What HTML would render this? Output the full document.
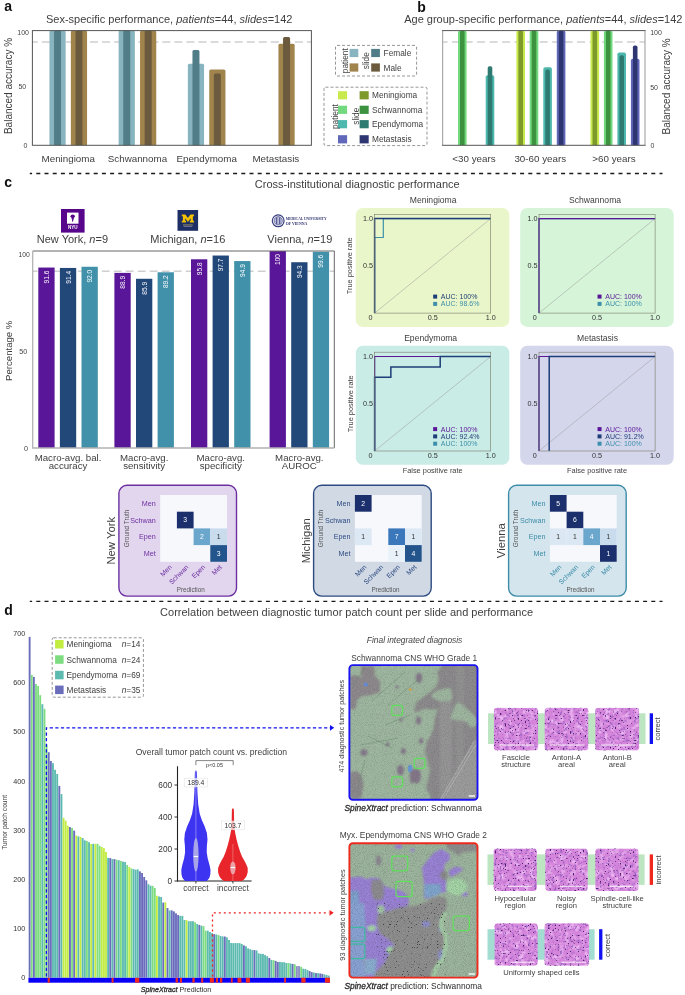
<!DOCTYPE html>
<html><head><meta charset="utf-8"><title>figure</title>
<style>
html,body{margin:0;padding:0;background:#fff;}
body{width:685px;height:995px;overflow:hidden;}
svg{display:block;font-family:"Liberation Sans", sans-serif;will-change:transform;}
</style></head><body>
<svg width="685" height="995" viewBox="0 0 685 995">
<rect width="685" height="995" fill="#ffffff"/>
<text x="4.20" y="11.40" font-size="14" text-anchor="start" fill="#111" font-weight="bold">a</text>
<text x="417.30" y="11.60" font-size="14" text-anchor="start" fill="#111" font-weight="bold">b</text>
<text x="4.20" y="186.80" font-size="14" text-anchor="start" fill="#111" font-weight="bold">c</text>
<text x="4.20" y="615.40" font-size="14" text-anchor="start" fill="#111" font-weight="bold">d</text>
<line x1="29.80" y1="173.50" x2="662.50" y2="173.50" stroke="#1a1a1a" stroke-width="1.4" stroke-dasharray="4 4.2" stroke-dashoffset="1.7"/>
<line x1="29.80" y1="601.40" x2="662.50" y2="601.40" stroke="#1a1a1a" stroke-width="1.4" stroke-dasharray="4 4.2" stroke-dashoffset="1.7"/>
<text x="46.00" y="22.50" font-size="11" text-anchor="start" fill="#3e3e3e"><tspan>Sex-specific performance, </tspan><tspan font-style="italic">patients</tspan><tspan>=44, </tspan><tspan font-style="italic">slides</tspan><tspan>=142</tspan></text>
<line x1="32.40" y1="42.07" x2="311.40" y2="42.07" stroke="#cfcfcf" stroke-width="1.6" stroke-dasharray="8 4.05" stroke-dashoffset="2.6"/>
<path d="M49.45,145.30 L49.45,32.10 Q49.45,30.60 50.95,30.60 L64.15,30.60 Q65.65,30.60 65.65,32.10 L65.65,145.30 Z" fill="#87b4bf"/>
<path d="M54.05,145.30 L54.05,32.10 Q54.05,30.60 55.55,30.60 L59.55,30.60 Q61.05,30.60 61.05,32.10 L61.05,145.30 Z" fill="#507d88"/>
<path d="M70.85,145.30 L70.85,32.10 Q70.85,30.60 72.35,30.60 L85.55,30.60 Q87.05,30.60 87.05,32.10 L87.05,145.30 Z" fill="#a0844c"/>
<path d="M75.45,145.30 L75.45,32.10 Q75.45,30.60 76.95,30.60 L80.95,30.60 Q82.45,30.60 82.45,32.10 L82.45,145.30 Z" fill="#6b5a3d"/>
<text x="68.25" y="161.90" font-size="9.8" text-anchor="middle" fill="#3e3e3e">Meningioma</text>
<path d="M118.65,145.30 L118.65,32.10 Q118.65,30.60 120.15,30.60 L133.35,30.60 Q134.85,30.60 134.85,32.10 L134.85,145.30 Z" fill="#87b4bf"/>
<path d="M123.25,145.30 L123.25,32.10 Q123.25,30.60 124.75,30.60 L128.75,30.60 Q130.25,30.60 130.25,32.10 L130.25,145.30 Z" fill="#507d88"/>
<path d="M140.05,145.30 L140.05,32.10 Q140.05,30.60 141.55,30.60 L154.75,30.60 Q156.25,30.60 156.25,32.10 L156.25,145.30 Z" fill="#a0844c"/>
<path d="M144.65,145.30 L144.65,32.10 Q144.65,30.60 146.15,30.60 L150.15,30.60 Q151.65,30.60 151.65,32.10 L151.65,145.30 Z" fill="#6b5a3d"/>
<text x="137.45" y="161.90" font-size="9.8" text-anchor="middle" fill="#3e3e3e">Schwannoma</text>
<path d="M187.85,145.30 L187.85,65.36 Q187.85,63.86 189.35,63.86 L202.55,63.86 Q204.05,63.86 204.05,65.36 L204.05,145.30 Z" fill="#87b4bf"/>
<path d="M192.45,145.30 L192.45,51.60 Q192.45,50.10 193.95,50.10 L197.95,50.10 Q199.45,50.10 199.45,51.60 L199.45,145.30 Z" fill="#507d88"/>
<path d="M209.25,145.30 L209.25,71.10 Q209.25,69.60 210.75,69.60 L223.95,69.60 Q225.45,69.60 225.45,71.10 L225.45,145.30 Z" fill="#a0844c"/>
<path d="M213.85,145.30 L213.85,75.11 Q213.85,73.61 215.35,73.61 L219.35,73.61 Q220.85,73.61 220.85,75.11 L220.85,145.30 Z" fill="#6b5a3d"/>
<text x="206.65" y="161.90" font-size="9.8" text-anchor="middle" fill="#3e3e3e">Ependymoma</text>
<path d="M278.45,145.30 L278.45,45.29 Q278.45,43.79 279.95,43.79 L293.15,43.79 Q294.65,43.79 294.65,45.29 L294.65,145.30 Z" fill="#a0844c"/>
<path d="M283.05,145.30 L283.05,38.41 Q283.05,36.91 284.55,36.91 L288.55,36.91 Q290.05,36.91 290.05,38.41 L290.05,145.30 Z" fill="#6b5a3d"/>
<text x="275.85" y="161.90" font-size="9.8" text-anchor="middle" fill="#3e3e3e">Metastasis</text>
<rect x="32.4" y="30.6" width="279.0" height="114.70000000000002" fill="none" stroke="#555" stroke-width="1"/>
<text x="29.00" y="35.30" font-size="7.0" text-anchor="end" fill="#444">100</text>
<text x="26.20" y="89.40" font-size="7.0" text-anchor="end" fill="#444">50</text>
<text x="27.40" y="148.30" font-size="7.0" text-anchor="end" fill="#444">0</text>
<text x="8.20" y="86.00" font-size="10" text-anchor="middle" fill="#3e3e3e" transform="rotate(-90 8.2 86)" dominant-baseline="central">Balanced accuracy %</text>
<rect x="335.50" y="45.40" width="81.10" height="30.60" fill="none" stroke="#8a8a8a" stroke-width="0.9" stroke-dasharray="3 2" rx="1.5"/>
<text x="345.20" y="60.70" font-size="8.3" text-anchor="middle" fill="#3e3e3e" transform="rotate(-90 345.2 60.7)" dominant-baseline="central">patient</text>
<text x="366.50" y="60.70" font-size="8.3" text-anchor="middle" fill="#3e3e3e" transform="rotate(-90 366.5 60.7)" dominant-baseline="central">slide</text>
<rect x="349.60" y="48.90" width="8.70" height="8.20" fill="#87b4bf"/>
<rect x="349.60" y="63.40" width="8.70" height="8.20" fill="#a0844c"/>
<rect x="371.20" y="48.90" width="8.70" height="8.20" fill="#507d88"/>
<rect x="371.20" y="63.40" width="8.70" height="8.20" fill="#6b5a3d"/>
<text x="383.60" y="56.20" font-size="8.3" text-anchor="start" fill="#3e3e3e">Female</text>
<text x="383.60" y="70.70" font-size="8.3" text-anchor="start" fill="#3e3e3e">Male</text>
<rect x="324.00" y="87.20" width="103.00" height="58.40" fill="none" stroke="#8a8a8a" stroke-width="0.9" stroke-dasharray="3 2" rx="1.5"/>
<rect x="338.00" y="91.20" width="9.10" height="8.20" fill="#c8ea4c"/>
<rect x="359.60" y="91.20" width="9.10" height="8.20" fill="#7d9a2b"/>
<text x="372.00" y="98.20" font-size="8.3" text-anchor="start" fill="#3e3e3e">Meningioma</text>
<rect x="338.00" y="105.70" width="9.10" height="8.20" fill="#72d97e"/>
<rect x="359.60" y="105.70" width="9.10" height="8.20" fill="#3d923f"/>
<text x="372.00" y="112.70" font-size="8.3" text-anchor="start" fill="#3e3e3e">Schwannoma</text>
<rect x="338.00" y="120.10" width="9.10" height="8.20" fill="#4db8ad"/>
<rect x="359.60" y="120.10" width="9.10" height="8.20" fill="#2e7a71"/>
<text x="372.00" y="127.10" font-size="8.3" text-anchor="start" fill="#3e3e3e">Ependymoma</text>
<rect x="338.00" y="135.20" width="9.10" height="8.20" fill="#6167b9"/>
<rect x="359.60" y="135.20" width="9.10" height="8.20" fill="#2d3671"/>
<text x="372.00" y="142.20" font-size="8.3" text-anchor="start" fill="#3e3e3e">Metastasis</text>
<text x="334.70" y="116.60" font-size="8.3" text-anchor="middle" fill="#3e3e3e" transform="rotate(-90 334.7 116.6)" dominant-baseline="central">patient</text>
<text x="356.00" y="116.20" font-size="8.3" text-anchor="middle" fill="#3e3e3e" transform="rotate(-90 356.0 116.2)" dominant-baseline="central">slide</text>
<text x="404.20" y="22.50" font-size="11" text-anchor="start" fill="#3e3e3e"><tspan>Age group-specific performance, </tspan><tspan font-style="italic">patients</tspan><tspan>=44, </tspan><tspan font-style="italic">slides</tspan><tspan>=142</tspan></text>
<line x1="442.60" y1="42.07" x2="645.00" y2="42.07" stroke="#cfcfcf" stroke-width="1.6" stroke-dasharray="8 4.5" stroke-dashoffset="3"/>
<path d="M458.00,145.30 L458.00,32.40 Q458.00,30.60 459.80,30.60 L464.80,30.60 Q466.60,30.60 466.60,32.40 L466.60,145.30 Z" fill="#72d97e"/>
<path d="M460.00,145.30 L460.00,32.40 Q460.00,30.60 461.80,30.60 L462.80,30.60 Q464.60,30.60 464.60,32.40 L464.60,145.30 Z" fill="#3d923f"/>
<path d="M485.70,145.30 L485.70,77.13 Q485.70,75.33 487.50,75.33 L492.50,75.33 Q494.30,75.33 494.30,77.13 L494.30,145.30 Z" fill="#4db8ad"/>
<path d="M487.70,145.30 L487.70,67.96 Q487.70,66.16 489.50,66.16 L490.50,66.16 Q492.30,66.16 492.30,67.96 L492.30,145.30 Z" fill="#2e7a71"/>
<text x="474.00" y="161.90" font-size="9.8" text-anchor="middle" fill="#3e3e3e">&lt;30 years</text>
<path d="M516.40,145.30 L516.40,32.40 Q516.40,30.60 518.20,30.60 L523.20,30.60 Q525.00,30.60 525.00,32.40 L525.00,145.30 Z" fill="#c8ea4c"/>
<path d="M518.40,145.30 L518.40,32.40 Q518.40,30.60 520.20,30.60 L521.20,30.60 Q523.00,30.60 523.00,32.40 L523.00,145.30 Z" fill="#7d9a2b"/>
<path d="M529.70,145.30 L529.70,32.40 Q529.70,30.60 531.50,30.60 L536.50,30.60 Q538.30,30.60 538.30,32.40 L538.30,145.30 Z" fill="#72d97e"/>
<path d="M531.70,145.30 L531.70,32.40 Q531.70,30.60 533.50,30.60 L534.50,30.60 Q536.30,30.60 536.30,32.40 L536.30,145.30 Z" fill="#3d923f"/>
<path d="M543.30,145.30 L543.30,69.10 Q543.30,67.30 545.10,67.30 L550.10,67.30 Q551.90,67.30 551.90,69.10 L551.90,145.30 Z" fill="#4db8ad"/>
<path d="M545.30,145.30 L545.30,71.40 Q545.30,69.60 547.10,69.60 L548.10,69.60 Q549.90,69.60 549.90,71.40 L549.90,145.30 Z" fill="#2e7a71"/>
<path d="M556.80,145.30 L556.80,32.40 Q556.80,30.60 558.60,30.60 L563.60,30.60 Q565.40,30.60 565.40,32.40 L565.40,145.30 Z" fill="#6167b9"/>
<path d="M558.80,145.30 L558.80,32.40 Q558.80,30.60 560.60,30.60 L561.60,30.60 Q563.40,30.60 563.40,32.40 L563.40,145.30 Z" fill="#2d3671"/>
<text x="540.30" y="161.90" font-size="9.8" text-anchor="middle" fill="#3e3e3e">30-60 years</text>
<path d="M590.50,145.30 L590.50,32.40 Q590.50,30.60 592.30,30.60 L597.30,30.60 Q599.10,30.60 599.10,32.40 L599.10,145.30 Z" fill="#c8ea4c"/>
<path d="M592.50,145.30 L592.50,32.40 Q592.50,30.60 594.30,30.60 L595.30,30.60 Q597.10,30.60 597.10,32.40 L597.10,145.30 Z" fill="#7d9a2b"/>
<path d="M603.90,145.30 L603.90,32.40 Q603.90,30.60 605.70,30.60 L610.70,30.60 Q612.50,30.60 612.50,32.40 L612.50,145.30 Z" fill="#72d97e"/>
<path d="M605.90,145.30 L605.90,32.40 Q605.90,30.60 607.70,30.60 L608.70,30.60 Q610.50,30.60 610.50,32.40 L610.50,145.30 Z" fill="#3d923f"/>
<path d="M617.40,145.30 L617.40,54.19 Q617.40,52.39 619.20,52.39 L624.20,52.39 Q626.00,52.39 626.00,54.19 L626.00,145.30 Z" fill="#4db8ad"/>
<path d="M619.40,145.30 L619.40,57.06 Q619.40,55.26 621.20,55.26 L622.20,55.26 Q624.00,55.26 624.00,57.06 L624.00,145.30 Z" fill="#2e7a71"/>
<path d="M630.90,145.30 L630.90,60.50 Q630.90,58.70 632.70,58.70 L637.70,58.70 Q639.50,58.70 639.50,60.50 L639.50,145.30 Z" fill="#6167b9"/>
<path d="M632.90,145.30 L632.90,47.31 Q632.90,45.51 634.70,45.51 L635.70,45.51 Q637.50,45.51 637.50,47.31 L637.50,145.30 Z" fill="#2d3671"/>
<text x="614.00" y="161.90" font-size="9.8" text-anchor="middle" fill="#3e3e3e">&gt;60 years</text>
<path d="M442.6,30.6 V145.3 M645.0,30.6 V145.3" fill="none" stroke="#aaaaaa" stroke-width="1.2"/>
<path d="M442.1,30.6 H645.5 M442.1,145.3 H645.5" fill="none" stroke="#555" stroke-width="1"/>
<text x="650.20" y="35.30" font-size="7.0" text-anchor="start" fill="#444">100</text>
<text x="650.20" y="89.90" font-size="7.0" text-anchor="start" fill="#444">50</text>
<text x="650.40" y="148.30" font-size="7.0" text-anchor="start" fill="#444">0</text>
<text x="666.60" y="86.40" font-size="10" text-anchor="middle" fill="#3e3e3e" transform="rotate(-90 666.6 86.4)" dominant-baseline="central">Balanced accuracy %</text>
<text x="254.80" y="188.40" font-size="11" text-anchor="start" fill="#3e3e3e">Cross-institutional diagnostic performance</text>
<rect x="61.00" y="209.00" width="23.60" height="23.60" fill="#57068c"/>
<rect x="67.00" y="212.60" width="11.50" height="11.10" fill="#ffffff"/>
<ellipse cx="72.7" cy="216.3" rx="2.2" ry="1.7" fill="#57068c"/>
<path d="M71.3,217 L74.1,217 L72.9,222 L72.5,222 Z" fill="#57068c"/>
<text x="72.80" y="229.20" font-size="4.6" text-anchor="middle" fill="#ffffff" font-weight="bold">NYU</text>
<rect x="177.50" y="210.00" width="20.60" height="20.80" fill="#1e2f66"/>
<path d="M181.8,214.6 h3.6 l2.5,3.5 l2.5,-3.5 h3.6 v1.6 h-1.1 v4.6 h1.1 v1.6 h-4.2 v-1.6 h0.9 v-2.6 l-2.8,3.7 l-2.8,-3.7 v2.6 h0.9 v1.6 h-4.2 v-1.6 h1.1 v-4.6 h-1.1 z" fill="#f2c200"/>
<rect x="183.00" y="224.60" width="9.80" height="0.70" fill="#c9b45a"/>
<rect x="183.50" y="226.00" width="8.80" height="0.60" fill="#9a9ab0"/>
<circle cx="278.2" cy="220.8" r="5.9" fill="#ffffff" stroke="#3a3f80" stroke-width="1.2"/>
<circle cx="278.2" cy="220.8" r="4.2" fill="#b9bbd8" stroke="#3a3f80" stroke-width="0.6"/>
<path d="M276.7,217.5 v6.6 M279.7,217.5 v6.6" stroke="#3a3f80" stroke-width="0.9"/>
<text x="285.80" y="220.30" font-size="3.9" text-anchor="start" fill="#2e3370" font-weight="bold" font-family="Liberation Serif" textLength="40.8" lengthAdjust="spacingAndGlyphs">MEDICAL UNIVERSITY</text>
<text x="285.80" y="224.50" font-size="3.9" text-anchor="start" fill="#2e3370" font-weight="bold" font-family="Liberation Serif">OF VIENNA</text>
<text x="72.40" y="242.80" font-size="11" text-anchor="middle" fill="#3e3e3e"><tspan>New York, </tspan><tspan font-style="italic">n</tspan><tspan>=9</tspan></text>
<text x="187.80" y="242.80" font-size="11" text-anchor="middle" fill="#3e3e3e"><tspan>Michigan, </tspan><tspan font-style="italic">n</tspan><tspan>=16</tspan></text>
<text x="299.80" y="242.80" font-size="11" text-anchor="middle" fill="#3e3e3e"><tspan>Vienna, </tspan><tspan font-style="italic">n</tspan><tspan>=19</tspan></text>
<line x1="32.70" y1="271.20" x2="334.30" y2="271.20" stroke="#cfcfcf" stroke-width="1.6" stroke-dasharray="7.8 4.2" stroke-dashoffset="2.9"/>
<rect x="38.30" y="267.55" width="16.30" height="180.45" fill="#5a1698"/>
<text x="46.45" y="270.55" font-size="6.6" text-anchor="end" fill="#ffffff" transform="rotate(-90 46.449999999999996 270.548)" dominant-baseline="central">91.6</text>
<rect x="59.90" y="267.94" width="16.30" height="180.06" fill="#224779"/>
<text x="68.05" y="270.94" font-size="6.6" text-anchor="end" fill="#ffffff" transform="rotate(-90 68.05 270.942)" dominant-baseline="central">91.4</text>
<rect x="81.50" y="266.76" width="16.30" height="181.24" fill="#4291aa"/>
<text x="89.65" y="269.76" font-size="6.6" text-anchor="end" fill="#ffffff" transform="rotate(-90 89.65 269.76)" dominant-baseline="central">92.0</text>
<rect x="114.40" y="272.87" width="16.30" height="175.13" fill="#5a1698"/>
<text x="122.55" y="275.87" font-size="6.6" text-anchor="end" fill="#ffffff" transform="rotate(-90 122.55000000000001 275.86699999999996)" dominant-baseline="central">88.9</text>
<rect x="136.00" y="278.78" width="16.30" height="169.22" fill="#224779"/>
<text x="144.15" y="281.78" font-size="6.6" text-anchor="end" fill="#ffffff" transform="rotate(-90 144.15 281.77699999999993)" dominant-baseline="central">85.9</text>
<rect x="157.60" y="272.28" width="16.30" height="175.72" fill="#4291aa"/>
<text x="165.75" y="275.28" font-size="6.6" text-anchor="end" fill="#ffffff" transform="rotate(-90 165.75000000000003 275.27599999999995)" dominant-baseline="central">89.2</text>
<rect x="191.00" y="259.27" width="16.30" height="188.73" fill="#5a1698"/>
<text x="199.15" y="262.27" font-size="6.6" text-anchor="end" fill="#ffffff" transform="rotate(-90 199.15 262.274)" dominant-baseline="central">95.8</text>
<rect x="212.60" y="255.53" width="16.30" height="192.47" fill="#224779"/>
<text x="220.75" y="258.53" font-size="6.6" text-anchor="end" fill="#ffffff" transform="rotate(-90 220.75 258.53099999999995)" dominant-baseline="central">97.7</text>
<rect x="234.20" y="261.05" width="16.30" height="186.95" fill="#4291aa"/>
<text x="242.35" y="264.05" font-size="6.6" text-anchor="end" fill="#ffffff" transform="rotate(-90 242.35 264.04699999999997)" dominant-baseline="central">94.9</text>
<rect x="269.60" y="251.00" width="16.30" height="197.00" fill="#5a1698"/>
<text x="277.75" y="254.00" font-size="6.6" text-anchor="end" fill="#ffffff" transform="rotate(-90 277.75 254.0)" dominant-baseline="central">100</text>
<rect x="291.20" y="262.23" width="16.30" height="185.77" fill="#224779"/>
<text x="299.35" y="265.23" font-size="6.6" text-anchor="end" fill="#ffffff" transform="rotate(-90 299.35 265.22900000000004)" dominant-baseline="central">94.3</text>
<rect x="312.80" y="251.79" width="16.30" height="196.21" fill="#4291aa"/>
<text x="320.95" y="254.79" font-size="6.6" text-anchor="end" fill="#ffffff" transform="rotate(-90 320.95 254.78800000000004)" dominant-baseline="central">99.6</text>
<path d="M32.7,251.0 H334.3 V448.0" fill="none" stroke="#666" stroke-width="1"/>
<path d="M32.7,251.0 V448.0 H334.3" fill="none" stroke="#b3b3b3" stroke-width="1.3"/>
<text x="29.90" y="256.60" font-size="6.8" text-anchor="end" fill="#444">100</text>
<text x="27.20" y="353.60" font-size="7.2" text-anchor="end" fill="#444">50</text>
<text x="28.10" y="450.70" font-size="7.2" text-anchor="end" fill="#444">0</text>
<text x="9.00" y="350.80" font-size="9.6" text-anchor="middle" fill="#3e3e3e" transform="rotate(-90 9.0 350.8)" dominant-baseline="central">Percentage %</text>
<text x="68.05" y="460.60" font-size="9.7" text-anchor="middle" fill="#3e3e3e">Macro-avg. bal.</text>
<text x="68.05" y="469.30" font-size="9.7" text-anchor="middle" fill="#3e3e3e">accuracy</text>
<text x="144.15" y="460.60" font-size="9.7" text-anchor="middle" fill="#3e3e3e">Macro-avg.</text>
<text x="144.15" y="469.30" font-size="9.7" text-anchor="middle" fill="#3e3e3e">sensitivity</text>
<text x="220.75" y="460.60" font-size="9.7" text-anchor="middle" fill="#3e3e3e">Macro-avg.</text>
<text x="220.75" y="469.30" font-size="9.7" text-anchor="middle" fill="#3e3e3e">specificity</text>
<text x="299.35" y="460.60" font-size="9.7" text-anchor="middle" fill="#3e3e3e">Macro-avg.</text>
<text x="299.35" y="469.30" font-size="9.7" text-anchor="middle" fill="#3e3e3e">AUROC</text>
<rect x="355.80" y="207.90" width="153.5" height="119.0" rx="7" fill="#e9f6c9"/>
<text x="433.15" y="203.30" font-size="8.6" text-anchor="middle" fill="#3e3e3e">Meningioma</text>
<line x1="374.60" y1="313.10" x2="490.70" y2="218.60" stroke="#9a9a9a" stroke-width="0.5"/>
<path d="M374.6,313.1 V237.5 H383.3075 V218.6 H490.70000000000005" fill="none" stroke="#3e8fab" stroke-width="1.2"/>
<path d="M374.6,313.1 V218.6 H490.70000000000005" fill="none" stroke="#1f3d78" stroke-width="1.5"/>
<rect x="374.60" y="214.30" width="116.10" height="98.80" fill="none" stroke="#7a7a6a" stroke-width="0.6"/>
<text x="373.00" y="221.20" font-size="7.2" text-anchor="end" fill="#333">1.0</text>
<text x="373.00" y="268.45" font-size="7.2" text-anchor="end" fill="#333">0.5</text>
<text x="370.40" y="320.10" font-size="7.2" text-anchor="middle" fill="#333">0</text>
<text x="432.65" y="320.10" font-size="7.2" text-anchor="middle" fill="#333">0.5</text>
<text x="490.70" y="320.10" font-size="7.2" text-anchor="middle" fill="#333">1.0</text>
<rect x="433.15" y="294.60" width="4.00" height="4.00" fill="#1f3d78"/>
<text x="440.85" y="299.10" font-size="7.0" text-anchor="start" fill="#1f3d78">AUC: 100%</text>
<rect x="433.15" y="301.90" width="4.00" height="4.00" fill="#3e8fab"/>
<text x="440.85" y="306.40" font-size="7.0" text-anchor="start" fill="#3e8fab">AUC: 98.6%</text>
<text x="350.00" y="265.85" font-size="7.4" text-anchor="middle" fill="#3e3e3e" transform="rotate(-90 350.0 265.85)" dominant-baseline="central">True positive rate</text>
<rect x="520.20" y="207.90" width="153.5" height="119.0" rx="7" fill="#d5f4d8"/>
<text x="595.05" y="203.30" font-size="8.6" text-anchor="middle" fill="#3e3e3e">Schwannoma</text>
<line x1="539.00" y1="313.10" x2="655.10" y2="218.60" stroke="#9a9a9a" stroke-width="0.5"/>
<path d="M539.0,313.1 V218.6 H655.1" fill="none" stroke="#3e8fab" stroke-width="1.2"/>
<path d="M539.0,313.1 V218.6 H655.1" fill="none" stroke="#5a1698" stroke-width="1.2"/>
<rect x="539.00" y="214.30" width="116.10" height="98.80" fill="none" stroke="#7a7a6a" stroke-width="0.6"/>
<text x="537.40" y="221.20" font-size="7.2" text-anchor="end" fill="#333">1.0</text>
<text x="537.40" y="268.45" font-size="7.2" text-anchor="end" fill="#333">0.5</text>
<text x="534.80" y="320.10" font-size="7.2" text-anchor="middle" fill="#333">0</text>
<text x="597.05" y="320.10" font-size="7.2" text-anchor="middle" fill="#333">0.5</text>
<text x="655.10" y="320.10" font-size="7.2" text-anchor="middle" fill="#333">1.0</text>
<rect x="597.55" y="294.60" width="4.00" height="4.00" fill="#5a1698"/>
<text x="605.25" y="299.10" font-size="7.0" text-anchor="start" fill="#5a1698">AUC: 100%</text>
<rect x="597.55" y="301.90" width="4.00" height="4.00" fill="#3e8fab"/>
<text x="605.25" y="306.40" font-size="7.0" text-anchor="start" fill="#3e8fab">AUC: 100%</text>
<rect x="355.80" y="345.80" width="153.5" height="119.0" rx="7" fill="#c9ece6"/>
<text x="430.65" y="341.20" font-size="8.6" text-anchor="middle" fill="#3e3e3e">Ependymoma</text>
<line x1="374.60" y1="451.00" x2="490.70" y2="356.50" stroke="#9a9a9a" stroke-width="0.5"/>
<path d="M374.6,451.0 V356.5 H490.70000000000005" fill="none" stroke="#3e8fab" stroke-width="1.2"/>
<path d="M374.6,451.0 V356.5 H439.61600000000004" fill="none" stroke="#5a1698" stroke-width="1.2"/>
<path d="M374.6,451.0 V377.28999999999996 H390.85400000000004 V366.895 H440.1965 V356.5 H490.70000000000005" fill="none" stroke="#1f3d78" stroke-width="1.5"/>
<rect x="374.60" y="352.20" width="116.10" height="98.80" fill="none" stroke="#7a7a6a" stroke-width="0.6"/>
<text x="373.00" y="359.10" font-size="7.2" text-anchor="end" fill="#333">1.0</text>
<text x="373.00" y="406.35" font-size="7.2" text-anchor="end" fill="#333">0.5</text>
<text x="370.40" y="458.00" font-size="7.2" text-anchor="middle" fill="#333">0</text>
<text x="432.65" y="458.00" font-size="7.2" text-anchor="middle" fill="#333">0.5</text>
<text x="490.70" y="458.00" font-size="7.2" text-anchor="middle" fill="#333">1.0</text>
<rect x="433.15" y="427.10" width="4.00" height="4.00" fill="#5a1698"/>
<text x="440.85" y="431.60" font-size="7.0" text-anchor="start" fill="#5a1698">AUC: 100%</text>
<rect x="433.15" y="434.40" width="4.00" height="4.00" fill="#1f3d78"/>
<text x="440.85" y="438.90" font-size="7.0" text-anchor="start" fill="#1f3d78">AUC: 92.4%</text>
<rect x="433.15" y="441.70" width="4.00" height="4.00" fill="#3e8fab"/>
<text x="440.85" y="446.20" font-size="7.0" text-anchor="start" fill="#3e8fab">AUC: 100%</text>
<text x="350.00" y="403.75" font-size="7.4" text-anchor="middle" fill="#3e3e3e" transform="rotate(-90 350.0 403.75)" dominant-baseline="central">True positive rate</text>
<text x="432.65" y="473.10" font-size="7.4" text-anchor="middle" fill="#3e3e3e">False positive rate</text>
<rect x="520.20" y="345.80" width="153.5" height="119.0" rx="7" fill="#d4d6ec"/>
<text x="597.55" y="341.20" font-size="8.6" text-anchor="middle" fill="#3e3e3e">Metastasis</text>
<line x1="539.00" y1="451.00" x2="655.10" y2="356.50" stroke="#9a9a9a" stroke-width="0.5"/>
<path d="M539.0,451.0 V356.5 H655.1" fill="none" stroke="#3e8fab" stroke-width="1.2"/>
<path d="M539.0,451.0 V356.5 H549.449" fill="none" stroke="#5a1698" stroke-width="1.2"/>
<path d="M549.2168,451.0 V356.5 H655.1" fill="none" stroke="#1f3d78" stroke-width="1.5"/>
<rect x="539.00" y="352.20" width="116.10" height="98.80" fill="none" stroke="#7a7a6a" stroke-width="0.6"/>
<text x="537.40" y="359.10" font-size="7.2" text-anchor="end" fill="#333">1.0</text>
<text x="537.40" y="406.35" font-size="7.2" text-anchor="end" fill="#333">0.5</text>
<text x="534.80" y="458.00" font-size="7.2" text-anchor="middle" fill="#333">0</text>
<text x="597.05" y="458.00" font-size="7.2" text-anchor="middle" fill="#333">0.5</text>
<text x="655.10" y="458.00" font-size="7.2" text-anchor="middle" fill="#333">1.0</text>
<rect x="597.55" y="427.10" width="4.00" height="4.00" fill="#5a1698"/>
<text x="605.25" y="431.60" font-size="7.0" text-anchor="start" fill="#5a1698">AUC: 100%</text>
<rect x="597.55" y="434.40" width="4.00" height="4.00" fill="#1f3d78"/>
<text x="605.25" y="438.90" font-size="7.0" text-anchor="start" fill="#1f3d78">AUC: 91.2%</text>
<rect x="597.55" y="441.70" width="4.00" height="4.00" fill="#3e8fab"/>
<text x="605.25" y="446.20" font-size="7.0" text-anchor="start" fill="#3e8fab">AUC: 100%</text>
<text x="597.05" y="473.10" font-size="7.4" text-anchor="middle" fill="#3e3e3e">False positive rate</text>
<rect x="118.90" y="485.30" width="117.6" height="110.8" rx="8" fill="#e2d6ee" stroke="#6c2fa0" stroke-width="1.4"/>
<rect x="160.20" y="495.00" width="66.80" height="66.80" fill="#f6f8fc"/>
<rect x="176.90" y="511.70" width="16.70" height="16.70" fill="#1b2f6c"/>
<text x="185.25" y="522.35" font-size="6.8" text-anchor="middle" fill="#fff">3</text>
<rect x="193.60" y="528.40" width="16.70" height="16.70" fill="#6ba6cd"/>
<text x="201.95" y="539.05" font-size="6.8" text-anchor="middle" fill="#fff">2</text>
<rect x="210.30" y="528.40" width="16.70" height="16.70" fill="#c8dcee"/>
<text x="218.65" y="539.05" font-size="6.8" text-anchor="middle" fill="#333">1</text>
<rect x="210.30" y="545.10" width="16.70" height="16.70" fill="#24548c"/>
<text x="218.65" y="555.75" font-size="6.8" text-anchor="middle" fill="#fff">3</text>
<text x="155.80" y="505.85" font-size="7.2" text-anchor="end" fill="#6c2fa0">Men</text>
<text x="170.55" y="565.80" font-size="6.8" text-anchor="end" fill="#6c2fa0" transform="rotate(-45 170.54999999999998 565.8)" dominant-baseline="central">Men</text>
<text x="155.80" y="522.55" font-size="7.2" text-anchor="end" fill="#6c2fa0">Schwan</text>
<text x="187.25" y="565.80" font-size="6.8" text-anchor="end" fill="#6c2fa0" transform="rotate(-45 187.24999999999997 565.8)" dominant-baseline="central">Schwan</text>
<text x="155.80" y="539.25" font-size="7.2" text-anchor="end" fill="#6c2fa0">Epen</text>
<text x="203.95" y="565.80" font-size="6.8" text-anchor="end" fill="#6c2fa0" transform="rotate(-45 203.95 565.8)" dominant-baseline="central">Epen</text>
<text x="155.80" y="555.95" font-size="7.2" text-anchor="end" fill="#6c2fa0">Met</text>
<text x="220.65" y="565.80" font-size="6.8" text-anchor="end" fill="#6c2fa0" transform="rotate(-45 220.64999999999998 565.8)" dominant-baseline="central">Met</text>
<text x="126.20" y="528.40" font-size="6.4" text-anchor="middle" fill="#555" transform="rotate(-90 126.2 528.4)" dominant-baseline="central">Ground Truth</text>
<text x="190.70" y="592.20" font-size="6.3" text-anchor="middle" fill="#555">Prediction</text>
<text x="111.10" y="540.70" font-size="11.3" text-anchor="middle" fill="#3e3e3e" transform="rotate(-90 111.10000000000001 540.7)" dominant-baseline="central">New York</text>
<rect x="313.60" y="485.30" width="117.6" height="110.8" rx="8" fill="#d1d9e5" stroke="#2d4b80" stroke-width="1.4"/>
<rect x="354.90" y="495.00" width="66.80" height="66.80" fill="#f6f8fc"/>
<rect x="354.90" y="495.00" width="16.70" height="16.70" fill="#1b2f6c"/>
<text x="363.25" y="505.65" font-size="6.8" text-anchor="middle" fill="#fff">2</text>
<rect x="354.90" y="528.40" width="16.70" height="16.70" fill="#dce8f4"/>
<text x="363.25" y="539.05" font-size="6.8" text-anchor="middle" fill="#333">1</text>
<rect x="388.30" y="528.40" width="16.70" height="16.70" fill="#3a78bb"/>
<text x="396.65" y="539.05" font-size="6.8" text-anchor="middle" fill="#fff">7</text>
<rect x="405.00" y="528.40" width="16.70" height="16.70" fill="#dce8f4"/>
<text x="413.35" y="539.05" font-size="6.8" text-anchor="middle" fill="#333">1</text>
<rect x="388.30" y="545.10" width="16.70" height="16.70" fill="#e9f1f9"/>
<text x="396.65" y="555.75" font-size="6.8" text-anchor="middle" fill="#333">1</text>
<rect x="405.00" y="545.10" width="16.70" height="16.70" fill="#24548c"/>
<text x="413.35" y="555.75" font-size="6.8" text-anchor="middle" fill="#fff">4</text>
<text x="350.50" y="505.85" font-size="7.2" text-anchor="end" fill="#2d4b80">Men</text>
<text x="365.25" y="565.80" font-size="6.8" text-anchor="end" fill="#2d4b80" transform="rotate(-45 365.25000000000006 565.8)" dominant-baseline="central">Men</text>
<text x="350.50" y="522.55" font-size="7.2" text-anchor="end" fill="#2d4b80">Schwan</text>
<text x="381.95" y="565.80" font-size="6.8" text-anchor="end" fill="#2d4b80" transform="rotate(-45 381.95000000000005 565.8)" dominant-baseline="central">Schwan</text>
<text x="350.50" y="539.25" font-size="7.2" text-anchor="end" fill="#2d4b80">Epen</text>
<text x="398.65" y="565.80" font-size="6.8" text-anchor="end" fill="#2d4b80" transform="rotate(-45 398.65000000000003 565.8)" dominant-baseline="central">Epen</text>
<text x="350.50" y="555.95" font-size="7.2" text-anchor="end" fill="#2d4b80">Met</text>
<text x="415.35" y="565.80" font-size="6.8" text-anchor="end" fill="#2d4b80" transform="rotate(-45 415.35 565.8)" dominant-baseline="central">Met</text>
<text x="320.90" y="528.40" font-size="6.4" text-anchor="middle" fill="#555" transform="rotate(-90 320.90000000000003 528.4)" dominant-baseline="central">Ground Truth</text>
<text x="385.40" y="592.20" font-size="6.3" text-anchor="middle" fill="#555">Prediction</text>
<text x="305.80" y="540.70" font-size="11.3" text-anchor="middle" fill="#3e3e3e" transform="rotate(-90 305.8 540.7)" dominant-baseline="central">Michigan</text>
<rect x="508.60" y="485.30" width="117.6" height="110.8" rx="8" fill="#d4e5ed" stroke="#3d8ca8" stroke-width="1.4"/>
<rect x="549.90" y="495.00" width="66.80" height="66.80" fill="#f6f8fc"/>
<rect x="549.90" y="495.00" width="16.70" height="16.70" fill="#1b2f6c"/>
<text x="558.25" y="505.65" font-size="6.8" text-anchor="middle" fill="#fff">5</text>
<rect x="566.60" y="511.70" width="16.70" height="16.70" fill="#1b2f6c"/>
<text x="574.95" y="522.35" font-size="6.8" text-anchor="middle" fill="#fff">6</text>
<rect x="549.90" y="528.40" width="16.70" height="16.70" fill="#dbe7f2"/>
<text x="558.25" y="539.05" font-size="6.8" text-anchor="middle" fill="#333">1</text>
<rect x="566.60" y="528.40" width="16.70" height="16.70" fill="#dbe7f2"/>
<text x="574.95" y="539.05" font-size="6.8" text-anchor="middle" fill="#333">1</text>
<rect x="583.30" y="528.40" width="16.70" height="16.70" fill="#6ba6cd"/>
<text x="591.65" y="539.05" font-size="6.8" text-anchor="middle" fill="#fff">4</text>
<rect x="600.00" y="528.40" width="16.70" height="16.70" fill="#c8dcee"/>
<text x="608.35" y="539.05" font-size="6.8" text-anchor="middle" fill="#333">1</text>
<rect x="600.00" y="545.10" width="16.70" height="16.70" fill="#1b2f6c"/>
<text x="608.35" y="555.75" font-size="6.8" text-anchor="middle" fill="#fff">1</text>
<text x="545.50" y="505.85" font-size="7.2" text-anchor="end" fill="#3d8ca8">Men</text>
<text x="560.25" y="565.80" font-size="6.8" text-anchor="end" fill="#3d8ca8" transform="rotate(-45 560.25 565.8)" dominant-baseline="central">Men</text>
<text x="545.50" y="522.55" font-size="7.2" text-anchor="end" fill="#3d8ca8">Schwan</text>
<text x="576.95" y="565.80" font-size="6.8" text-anchor="end" fill="#3d8ca8" transform="rotate(-45 576.95 565.8)" dominant-baseline="central">Schwan</text>
<text x="545.50" y="539.25" font-size="7.2" text-anchor="end" fill="#3d8ca8">Epen</text>
<text x="593.65" y="565.80" font-size="6.8" text-anchor="end" fill="#3d8ca8" transform="rotate(-45 593.65 565.8)" dominant-baseline="central">Epen</text>
<text x="545.50" y="555.95" font-size="7.2" text-anchor="end" fill="#3d8ca8">Met</text>
<text x="610.35" y="565.80" font-size="6.8" text-anchor="end" fill="#3d8ca8" transform="rotate(-45 610.35 565.8)" dominant-baseline="central">Met</text>
<text x="515.90" y="528.40" font-size="6.4" text-anchor="middle" fill="#555" transform="rotate(-90 515.9 528.4)" dominant-baseline="central">Ground Truth</text>
<text x="580.40" y="592.20" font-size="6.3" text-anchor="middle" fill="#555">Prediction</text>
<text x="500.80" y="540.70" font-size="11.3" text-anchor="middle" fill="#3e3e3e" transform="rotate(-90 500.8 540.7)" dominant-baseline="central">Vienna</text>
<text x="160.10" y="616.00" font-size="11" text-anchor="start" fill="#3e3e3e">Correlation between diagnostic tumor patch count per slide and performance</text>
<rect x="28.70" y="636.90" width="1.87" height="340.80" fill="#6a6cbc"/>
<rect x="30.82" y="674.90" width="1.87" height="302.80" fill="#7edc80"/>
<rect x="32.94" y="676.90" width="1.87" height="300.80" fill="#6a6cbc"/>
<rect x="35.06" y="684.00" width="1.87" height="293.70" fill="#7edc80"/>
<rect x="37.18" y="686.00" width="1.87" height="291.70" fill="#7edc80"/>
<rect x="39.31" y="695.20" width="1.87" height="282.50" fill="#7edc80"/>
<rect x="41.43" y="704.20" width="1.87" height="273.50" fill="#5cbab0"/>
<rect x="43.55" y="708.80" width="1.87" height="268.90" fill="#7edc80"/>
<rect x="45.67" y="744.40" width="1.87" height="233.30" fill="#7edc80"/>
<rect x="47.79" y="752.20" width="1.87" height="225.50" fill="#6a6cbc"/>
<rect x="49.91" y="761.00" width="1.87" height="216.70" fill="#6a6cbc"/>
<rect x="52.03" y="763.20" width="1.87" height="214.50" fill="#5cbab0"/>
<rect x="54.15" y="769.80" width="1.87" height="207.90" fill="#5cbab0"/>
<rect x="56.27" y="774.00" width="1.87" height="203.70" fill="#5cbab0"/>
<rect x="58.40" y="785.90" width="1.87" height="191.80" fill="#6a6cbc"/>
<rect x="60.52" y="794.10" width="1.87" height="183.60" fill="#5cbab0"/>
<rect x="62.64" y="817.90" width="1.87" height="159.80" fill="#c2ec42"/>
<rect x="64.76" y="820.80" width="1.87" height="156.90" fill="#c2ec42"/>
<rect x="66.88" y="825.70" width="1.87" height="152.00" fill="#c2ec42"/>
<rect x="69.00" y="827.10" width="1.87" height="150.60" fill="#6a6cbc"/>
<rect x="71.12" y="828.00" width="1.87" height="149.70" fill="#7edc80"/>
<rect x="73.24" y="830.60" width="1.87" height="147.10" fill="#6a6cbc"/>
<rect x="75.36" y="835.40" width="1.87" height="142.30" fill="#c2ec42"/>
<rect x="77.49" y="836.40" width="1.87" height="141.30" fill="#5cbab0"/>
<rect x="79.61" y="837.00" width="1.87" height="140.70" fill="#c2ec42"/>
<rect x="81.73" y="838.00" width="1.87" height="139.70" fill="#5cbab0"/>
<rect x="83.85" y="840.30" width="1.87" height="137.40" fill="#5cbab0"/>
<rect x="85.97" y="841.00" width="1.87" height="136.70" fill="#7edc80"/>
<rect x="88.09" y="842.20" width="1.87" height="135.50" fill="#5cbab0"/>
<rect x="90.21" y="844.00" width="1.87" height="133.70" fill="#c2ec42"/>
<rect x="92.33" y="843.80" width="1.87" height="133.90" fill="#5cbab0"/>
<rect x="94.45" y="843.80" width="1.87" height="133.90" fill="#c2ec42"/>
<rect x="96.58" y="843.80" width="1.87" height="133.90" fill="#7edc80"/>
<rect x="98.70" y="845.90" width="1.87" height="131.80" fill="#7edc80"/>
<rect x="100.82" y="847.00" width="1.87" height="130.70" fill="#c2ec42"/>
<rect x="102.94" y="848.20" width="1.87" height="129.50" fill="#c2ec42"/>
<rect x="105.06" y="852.00" width="1.87" height="125.70" fill="#c2ec42"/>
<rect x="107.18" y="857.90" width="1.87" height="119.80" fill="#5cbab0"/>
<rect x="109.30" y="858.10" width="1.87" height="119.60" fill="#6a6cbc"/>
<rect x="111.42" y="859.10" width="1.87" height="118.60" fill="#5cbab0"/>
<rect x="113.55" y="859.10" width="1.87" height="118.60" fill="#6a6cbc"/>
<rect x="115.67" y="859.70" width="1.87" height="118.00" fill="#7edc80"/>
<rect x="117.79" y="860.20" width="1.87" height="117.50" fill="#5cbab0"/>
<rect x="119.91" y="861.00" width="1.87" height="116.70" fill="#7edc80"/>
<rect x="122.03" y="861.60" width="1.87" height="116.10" fill="#5cbab0"/>
<rect x="124.15" y="862.00" width="1.87" height="115.70" fill="#5cbab0"/>
<rect x="126.27" y="865.00" width="1.87" height="112.70" fill="#7edc80"/>
<rect x="128.39" y="867.00" width="1.87" height="110.70" fill="#c2ec42"/>
<rect x="130.51" y="868.50" width="1.87" height="109.20" fill="#7edc80"/>
<rect x="132.64" y="869.10" width="1.87" height="108.60" fill="#5cbab0"/>
<rect x="134.76" y="869.70" width="1.87" height="108.00" fill="#5cbab0"/>
<rect x="136.88" y="869.40" width="1.87" height="108.30" fill="#5cbab0"/>
<rect x="139.00" y="871.40" width="1.87" height="106.30" fill="#6a6cbc"/>
<rect x="141.12" y="873.00" width="1.87" height="104.70" fill="#6a6cbc"/>
<rect x="143.24" y="877.00" width="1.87" height="100.70" fill="#6a6cbc"/>
<rect x="145.36" y="880.30" width="1.87" height="97.40" fill="#6a6cbc"/>
<rect x="147.48" y="884.20" width="1.87" height="93.50" fill="#5cbab0"/>
<rect x="149.60" y="885.70" width="1.87" height="92.00" fill="#5cbab0"/>
<rect x="151.73" y="885.90" width="1.87" height="91.80" fill="#7edc80"/>
<rect x="153.85" y="887.90" width="1.87" height="89.80" fill="#7edc80"/>
<rect x="155.97" y="895.70" width="1.87" height="82.00" fill="#c2ec42"/>
<rect x="158.09" y="896.50" width="1.87" height="81.20" fill="#5cbab0"/>
<rect x="160.21" y="897.00" width="1.87" height="80.70" fill="#5cbab0"/>
<rect x="162.33" y="902.60" width="1.87" height="75.10" fill="#6a6cbc"/>
<rect x="164.45" y="902.30" width="1.87" height="75.40" fill="#c2ec42"/>
<rect x="166.57" y="908.00" width="1.87" height="69.70" fill="#6a6cbc"/>
<rect x="168.69" y="910.40" width="1.87" height="67.30" fill="#5cbab0"/>
<rect x="170.82" y="910.40" width="1.87" height="67.30" fill="#6a6cbc"/>
<rect x="172.94" y="911.40" width="1.87" height="66.30" fill="#6a6cbc"/>
<rect x="175.06" y="913.30" width="1.87" height="64.40" fill="#6a6cbc"/>
<rect x="177.18" y="915.00" width="1.87" height="62.70" fill="#6a6cbc"/>
<rect x="179.30" y="915.90" width="1.87" height="61.80" fill="#5cbab0"/>
<rect x="181.42" y="915.90" width="1.87" height="61.80" fill="#5cbab0"/>
<rect x="183.54" y="920.00" width="1.87" height="57.70" fill="#5cbab0"/>
<rect x="185.66" y="920.10" width="1.87" height="57.60" fill="#c2ec42"/>
<rect x="187.78" y="921.20" width="1.87" height="56.50" fill="#5cbab0"/>
<rect x="189.91" y="921.20" width="1.87" height="56.50" fill="#5cbab0"/>
<rect x="192.03" y="921.20" width="1.87" height="56.50" fill="#5cbab0"/>
<rect x="194.15" y="922.20" width="1.87" height="55.50" fill="#7edc80"/>
<rect x="196.27" y="924.00" width="1.87" height="53.70" fill="#5cbab0"/>
<rect x="198.39" y="924.90" width="1.87" height="52.80" fill="#6a6cbc"/>
<rect x="200.51" y="925.70" width="1.87" height="52.00" fill="#5cbab0"/>
<rect x="202.63" y="926.10" width="1.87" height="51.60" fill="#7edc80"/>
<rect x="204.75" y="930.70" width="1.87" height="47.00" fill="#7edc80"/>
<rect x="206.87" y="930.70" width="1.87" height="47.00" fill="#5cbab0"/>
<rect x="209.00" y="932.00" width="1.87" height="45.70" fill="#5cbab0"/>
<rect x="211.12" y="933.10" width="1.87" height="44.60" fill="#5cbab0"/>
<rect x="213.24" y="934.10" width="1.87" height="43.60" fill="#6a6cbc"/>
<rect x="215.36" y="934.50" width="1.87" height="43.20" fill="#5cbab0"/>
<rect x="217.48" y="935.00" width="1.87" height="42.70" fill="#7edc80"/>
<rect x="219.60" y="936.00" width="1.87" height="41.70" fill="#5cbab0"/>
<rect x="221.72" y="936.50" width="1.87" height="41.20" fill="#5cbab0"/>
<rect x="223.84" y="936.50" width="1.87" height="41.20" fill="#6a6cbc"/>
<rect x="225.96" y="937.40" width="1.87" height="40.30" fill="#5cbab0"/>
<rect x="228.09" y="940.00" width="1.87" height="37.70" fill="#5cbab0"/>
<rect x="230.21" y="943.00" width="1.87" height="34.70" fill="#5cbab0"/>
<rect x="232.33" y="943.10" width="1.87" height="34.60" fill="#5cbab0"/>
<rect x="234.45" y="943.10" width="1.87" height="34.60" fill="#5cbab0"/>
<rect x="236.57" y="943.10" width="1.87" height="34.60" fill="#5cbab0"/>
<rect x="238.69" y="943.10" width="1.87" height="34.60" fill="#5cbab0"/>
<rect x="240.81" y="944.00" width="1.87" height="33.70" fill="#5cbab0"/>
<rect x="242.93" y="945.40" width="1.87" height="32.30" fill="#6a6cbc"/>
<rect x="245.05" y="946.30" width="1.87" height="31.40" fill="#5cbab0"/>
<rect x="247.18" y="948.40" width="1.87" height="29.30" fill="#5cbab0"/>
<rect x="249.30" y="949.20" width="1.87" height="28.50" fill="#5cbab0"/>
<rect x="251.42" y="950.10" width="1.87" height="27.60" fill="#5cbab0"/>
<rect x="253.54" y="950.10" width="1.87" height="27.60" fill="#6a6cbc"/>
<rect x="255.66" y="950.40" width="1.87" height="27.30" fill="#5cbab0"/>
<rect x="257.78" y="953.30" width="1.87" height="24.40" fill="#5cbab0"/>
<rect x="259.90" y="953.90" width="1.87" height="23.80" fill="#5cbab0"/>
<rect x="262.02" y="953.90" width="1.87" height="23.80" fill="#5cbab0"/>
<rect x="264.15" y="955.10" width="1.87" height="22.60" fill="#5cbab0"/>
<rect x="266.27" y="956.20" width="1.87" height="21.50" fill="#5cbab0"/>
<rect x="268.39" y="958.00" width="1.87" height="19.70" fill="#6a6cbc"/>
<rect x="270.51" y="959.90" width="1.87" height="17.80" fill="#5cbab0"/>
<rect x="272.63" y="960.20" width="1.87" height="17.50" fill="#7edc80"/>
<rect x="274.75" y="960.90" width="1.87" height="16.80" fill="#6a6cbc"/>
<rect x="276.87" y="962.00" width="1.87" height="15.70" fill="#6a6cbc"/>
<rect x="278.99" y="961.90" width="1.87" height="15.80" fill="#5cbab0"/>
<rect x="281.11" y="962.20" width="1.87" height="15.50" fill="#5cbab0"/>
<rect x="283.24" y="962.20" width="1.87" height="15.50" fill="#5cbab0"/>
<rect x="285.36" y="963.00" width="1.87" height="14.70" fill="#5cbab0"/>
<rect x="287.48" y="963.00" width="1.87" height="14.70" fill="#7edc80"/>
<rect x="289.60" y="963.40" width="1.87" height="14.30" fill="#5cbab0"/>
<rect x="291.72" y="964.00" width="1.87" height="13.70" fill="#6a6cbc"/>
<rect x="293.84" y="964.20" width="1.87" height="13.50" fill="#7edc80"/>
<rect x="295.96" y="966.10" width="1.87" height="11.60" fill="#8c8ec4"/>
<rect x="298.08" y="966.10" width="1.87" height="11.60" fill="#8c8ec4"/>
<rect x="300.20" y="966.80" width="1.87" height="10.90" fill="#7edc80"/>
<rect x="302.33" y="968.70" width="1.87" height="9.00" fill="#5cbab0"/>
<rect x="304.45" y="969.00" width="1.87" height="8.70" fill="#5cbab0"/>
<rect x="306.57" y="970.10" width="1.87" height="7.60" fill="#5cbab0"/>
<rect x="308.69" y="971.10" width="1.87" height="6.60" fill="#6a6cbc"/>
<rect x="310.81" y="972.10" width="1.87" height="5.60" fill="#6a6cbc"/>
<rect x="312.93" y="972.50" width="1.87" height="5.20" fill="#5cbab0"/>
<rect x="315.05" y="973.10" width="1.87" height="4.60" fill="#6a6cbc"/>
<rect x="317.17" y="973.10" width="1.87" height="4.60" fill="#5cbab0"/>
<rect x="319.29" y="973.50" width="1.87" height="4.20" fill="#6a6cbc"/>
<rect x="321.42" y="973.90" width="1.87" height="3.80" fill="#6a6cbc"/>
<rect x="323.54" y="974.40" width="1.87" height="3.30" fill="#5cbab0"/>
<rect x="325.66" y="975.00" width="1.87" height="2.70" fill="#5cbab0"/>
<rect x="327.78" y="975.60" width="1.87" height="2.10" fill="#5cbab0"/>
<rect x="28.40" y="977.80" width="301.60" height="4.90" fill="#0a00f5"/>
<rect x="47.70" y="977.80" width="2.10" height="4.90" fill="#f0281e"/>
<rect x="111.60" y="977.80" width="2.00" height="4.90" fill="#f0281e"/>
<rect x="135.00" y="977.80" width="4.30" height="4.90" fill="#f0281e"/>
<rect x="175.60" y="977.80" width="2.30" height="4.90" fill="#f0281e"/>
<rect x="179.90" y="977.80" width="2.10" height="4.90" fill="#f0281e"/>
<rect x="192.40" y="977.80" width="2.30" height="4.90" fill="#f0281e"/>
<rect x="201.20" y="977.80" width="2.00" height="4.90" fill="#f0281e"/>
<rect x="209.80" y="977.80" width="4.10" height="4.90" fill="#f0281e"/>
<rect x="215.90" y="977.80" width="2.10" height="4.90" fill="#f0281e"/>
<rect x="220.00" y="977.80" width="2.30" height="4.90" fill="#f0281e"/>
<rect x="230.90" y="977.80" width="1.80" height="4.90" fill="#f0281e"/>
<rect x="237.50" y="977.80" width="3.90" height="4.90" fill="#f0281e"/>
<rect x="245.90" y="977.80" width="4.00" height="4.90" fill="#f0281e"/>
<rect x="284.10" y="977.80" width="1.90" height="4.90" fill="#f0281e"/>
<rect x="301.30" y="977.80" width="4.30" height="4.90" fill="#f0281e"/>
<rect x="324.90" y="977.80" width="5.10" height="4.90" fill="#f0281e"/>
<text x="140.8" y="992.3" font-size="8.0" fill="#2a2a2a" textLength="70.4" lengthAdjust="spacingAndGlyphs"><tspan font-style="italic" stroke="#2a2a2a" stroke-width="0.3">SpineXtract</tspan> Prediction</text>
<text x="25.30" y="980.20" font-size="7.2" text-anchor="end" fill="#333">0</text>
<text x="25.30" y="931.03" font-size="7.2" text-anchor="end" fill="#333">100</text>
<text x="25.30" y="881.86" font-size="7.2" text-anchor="end" fill="#333">200</text>
<text x="25.30" y="832.69" font-size="7.2" text-anchor="end" fill="#333">300</text>
<text x="25.30" y="783.52" font-size="7.2" text-anchor="end" fill="#333">400</text>
<text x="25.30" y="734.35" font-size="7.2" text-anchor="end" fill="#333">500</text>
<text x="25.30" y="685.18" font-size="7.2" text-anchor="end" fill="#333">600</text>
<text x="25.30" y="636.01" font-size="7.2" text-anchor="end" fill="#333">700</text>
<text x="4.20" y="822.40" font-size="6.6" text-anchor="middle" fill="#3e3e3e" transform="rotate(-90 4.2 822.4)" dominant-baseline="central">Tumor patch count</text>
<rect x="52.2" y="637.8" width="91.2" height="59.4" fill="#ffffff" stroke="#8a8a8a" stroke-width="0.9" stroke-dasharray="3 2" rx="1.5"/>
<rect x="55.10" y="640.00" width="8.50" height="8.50" fill="#c2ec42"/>
<text x="66.50" y="647.20" font-size="8.3" text-anchor="start" fill="#3e3e3e">Meningioma</text>
<text x="140.40" y="647.20" font-size="8.3" text-anchor="end" fill="#3e3e3e"><tspan font-style="italic">n</tspan><tspan>=14</tspan></text>
<rect x="55.10" y="655.30" width="8.50" height="8.50" fill="#7edc80"/>
<text x="66.50" y="662.50" font-size="8.3" text-anchor="start" fill="#3e3e3e">Schwannoma</text>
<text x="140.40" y="662.50" font-size="8.3" text-anchor="end" fill="#3e3e3e"><tspan font-style="italic">n</tspan><tspan>=24</tspan></text>
<rect x="55.10" y="670.80" width="8.50" height="8.50" fill="#5cbab0"/>
<text x="66.50" y="678.00" font-size="8.3" text-anchor="start" fill="#3e3e3e">Ependymoma</text>
<text x="140.40" y="678.00" font-size="8.3" text-anchor="end" fill="#3e3e3e"><tspan font-style="italic">n</tspan><tspan>=69</tspan></text>
<rect x="55.10" y="685.60" width="8.50" height="8.50" fill="#6a6cbc"/>
<text x="66.50" y="692.80" font-size="8.3" text-anchor="start" fill="#3e3e3e">Metastasis</text>
<text x="140.40" y="692.80" font-size="8.3" text-anchor="end" fill="#3e3e3e"><tspan font-style="italic">n</tspan><tspan>=35</tspan></text>
<path d="M46.4,976.5 V727.8 H330" fill="none" stroke="#1010f0" stroke-width="1.3" stroke-dasharray="3.2 2.4"/>
<path d="M330,724.9 L334.2,727.8 L330,730.7 Z" fill="#1010f0"/>
<path d="M212.5,976.5 V912.8 H329" fill="none" stroke="#f02020" stroke-width="1.3" stroke-dasharray="2 3"/>
<path d="M329.5,909.9 L333.7,912.8 L329.5,915.7 Z" fill="#f02020"/>
<text x="211.40" y="754.50" font-size="8.6" text-anchor="middle" fill="#3e3e3e">Overall tumor patch count vs. prediction</text>
<line x1="177.50" y1="766.30" x2="177.50" y2="881.50" stroke="#222" stroke-width="1.1"/>
<line x1="177.00" y1="881.00" x2="251.60" y2="881.00" stroke="#222" stroke-width="1.1"/>
<line x1="174.50" y1="881.00" x2="177.50" y2="881.00" stroke="#222" stroke-width="0.9"/>
<text x="172.20" y="883.90" font-size="8.3" text-anchor="end" fill="#333">0</text>
<line x1="174.50" y1="849.00" x2="177.50" y2="849.00" stroke="#222" stroke-width="0.9"/>
<text x="172.20" y="851.90" font-size="8.3" text-anchor="end" fill="#333">200</text>
<line x1="174.50" y1="817.00" x2="177.50" y2="817.00" stroke="#222" stroke-width="0.9"/>
<text x="172.20" y="819.90" font-size="8.3" text-anchor="end" fill="#333">400</text>
<line x1="174.50" y1="785.00" x2="177.50" y2="785.00" stroke="#222" stroke-width="0.9"/>
<text x="172.20" y="787.90" font-size="8.3" text-anchor="end" fill="#333">600</text>
<line x1="195.90" y1="881.00" x2="195.90" y2="883.50" stroke="#222" stroke-width="0.9"/>
<line x1="232.90" y1="881.00" x2="232.90" y2="883.50" stroke="#222" stroke-width="0.9"/>
<text x="195.90" y="891.00" font-size="8.3" text-anchor="middle" fill="#3e3e3e">correct</text>
<text x="232.90" y="891.00" font-size="8.3" text-anchor="middle" fill="#3e3e3e">incorrect</text>
<polygon points="195.60,770.60 194.90,772.20 194.70,778.60 194.40,791.40 193.60,804.20 192.10,813.80 189.90,820.20 187.10,826.60 184.90,833.00 184.30,839.40 184.90,845.80 185.10,852.20 184.10,858.60 182.30,865.00 181.30,869.80 181.50,874.60 182.40,877.80 183.90,879.72 184.90,881.00 206.90,881.00 207.90,879.72 209.40,877.80 210.30,874.60 210.50,869.80 209.50,865.00 207.70,858.60 206.70,852.20 206.90,845.80 207.50,839.40 206.90,833.00 204.70,826.60 201.90,820.20 199.70,813.80 198.20,804.20 197.40,791.40 197.10,778.60 196.90,772.20 196.20,770.60" fill="#3d34f2"/>
<polygon points="232.60,808.20 231.90,809.80 231.70,820.20 231.10,830.12 230.30,834.60 229.10,840.04 227.60,845.80 225.60,852.04 223.60,857.00 221.80,860.04 219.60,864.20 218.10,868.04 218.10,872.20 219.20,876.04 220.90,878.60 222.40,880.04 223.90,881.00 241.90,881.00 243.40,880.04 244.90,878.60 246.60,876.04 247.70,872.20 247.70,868.04 246.20,864.20 244.00,860.04 242.20,857.00 240.20,852.04 238.20,845.80 236.70,840.04 235.50,834.60 234.70,830.12 234.10,820.20 233.90,809.80 233.20,808.20" fill="#e8252b"/>
<line x1="195.9" y1="881.0" x2="195.9" y2="771" stroke="#b3b0f5" stroke-width="0.6"/>
<ellipse cx="195.9" cy="854.8" rx="2.7" ry="16.8" fill="#a8a6e8"/>
<line x1="193.70" y1="856.50" x2="198.10" y2="856.50" stroke="#ffffff" stroke-width="1.2"/>
<line x1="232.9" y1="881.0" x2="232.9" y2="844" stroke="#f09090" stroke-width="0.6"/>
<ellipse cx="232.9" cy="867.9" rx="2.7" ry="6.4" fill="#eaa0a4"/>
<line x1="230.70" y1="867.50" x2="235.10" y2="867.50" stroke="#ffffff" stroke-width="1.2"/>
<rect x="184.2" y="778.2" width="23.3" height="8.8" fill="#ffffff" fill-opacity="0.7" stroke="#dddddd" stroke-width="0.5"/>
<text x="195.90" y="785.20" font-size="6.8" text-anchor="middle" fill="#333">189.4</text>
<rect x="221.3" y="821.0" width="23.3" height="8.8" fill="#ffffff" fill-opacity="0.7" stroke="#dddddd" stroke-width="0.5"/>
<text x="232.90" y="828.00" font-size="6.8" text-anchor="middle" fill="#333">103.7</text>
<path d="M195.9,765.2 V760.6 H233.2 V765.2" fill="none" stroke="#333" stroke-width="0.6"/>
<text x="214.50" y="767.00" font-size="5.5" text-anchor="middle" fill="#333">p&lt;0.05</text>
<defs>
<filter id="he" x="0" y="0" width="1" height="1" color-interpolation-filters="sRGB">
 <feTurbulence type="fractalNoise" baseFrequency="0.35" numOctaves="2" seed="4" result="n"/>
 <feColorMatrix in="n" type="matrix" values="0 0 0 0 0.66  0 0 0 0 0.42  0 0 0 0 0.80  5 0 0 0 -2.75" result="mid"/>
 <feTurbulence type="fractalNoise" baseFrequency="0.6" numOctaves="1" seed="7" result="n3"/>
 <feColorMatrix in="n3" type="matrix" values="0 0 0 0 0.30  0 0 0 0 0.12  0 0 0 0 0.45  10 0 0 0 -6.3" result="spots"/>
 <feTurbulence type="fractalNoise" baseFrequency="0.2" numOctaves="2" seed="9" result="n2"/>
 <feColorMatrix in="n2" type="matrix" values="0 0 0 0 0.93  0 0 0 0 0.72  0 0 0 0 0.95  3 0 0 0 -1.35" result="light"/>
 <feMerge result="m"><feMergeNode in="SourceGraphic"/><feMergeNode in="light"/><feMergeNode in="mid"/><feMergeNode in="spots"/></feMerge>
 <feComposite in="m" in2="SourceGraphic" operator="in"/>
</filter>
<filter id="grain" x="0" y="0" width="1" height="1" color-interpolation-filters="sRGB">
 <feTurbulence type="fractalNoise" baseFrequency="1.1" numOctaves="1" seed="2" result="n"/>
 <feColorMatrix in="n" type="matrix" values="0 0 0 0 0.2  0 0 0 0 0.22  0 0 0 0 0.2  -3 0 0 0 1.75" result="g"/>
 <feComposite in="g" in2="SourceGraphic" operator="in"/>
</filter>
<filter id="dots" x="0" y="0" width="1" height="1" color-interpolation-filters="sRGB">
 <feTurbulence type="fractalNoise" baseFrequency="1.3" numOctaves="1" seed="11" result="n"/>
 <feColorMatrix in="n" type="matrix" values="0 0 0 0 0.22  0 0 0 0 0.22  0 0 0 0 0.22  -14 0 0 0 4.55" result="d"/>
 <feComposite in="d" in2="SourceGraphic" operator="in"/>
</filter>
<filter id="soft" x="-20%" y="-20%" width="140%" height="140%"><feGaussianBlur stdDeviation="0.9"/></filter>
<filter id="soft2" x="-20%" y="-20%" width="140%" height="140%"><feGaussianBlur stdDeviation="2.2"/></filter>
<clipPath id="clipS"><rect x="349.8" y="665.5" width="127.2" height="133.6" rx="3"/></clipPath>
<clipPath id="clipE"><rect x="349.8" y="843.6" width="127.2" height="133.6" rx="3"/></clipPath>
</defs>
<g clip-path="url(#clipS)">
<rect x="348" y="664" width="132" height="137" fill="#9fb7a0"/>
<g filter="url(#soft)">
<path d="M441.8,662.0 L441.8,666.0 L436.8,672.9 L438.8,677.9 L436.8,685.8 L431.9,690.8 L424.9,695.8 L416.0,702.7 L414.0,710.7 L416.0,712.7 L423.9,708.7 L433.8,709.7 L437.8,708.7 L434.8,718.6 L432.9,731.0 L431.9,731.0 L430.9,736.0 L426.9,741.0 L424.9,750.9 L426.9,758.8 L429.9,770.7 L427.9,780.7 L425.9,788.6 L429.9,794.6 L430.9,802.0 L482.0,802.0 L482.0,662.0 Z" fill="#8d8b8d"/>
<rect x="439.8" y="700" width="12" height="102" fill="#989898" opacity="0.8"/>
<rect x="456" y="664" width="8" height="140" fill="#979797" opacity="0.6"/>
<path d="M438.8,802.0 L474.5,740.9 L482.0,735.0 L482.0,802.0 Z" fill="#9c9c9c"/>
<path d="M431.4,694.8 L436.8,690.8 L444.8,688.8 L449.7,687.8 L451.7,691.8 L452.2,697.8 L449.7,701.2 L441.8,701.2 L435.8,699.7 L431.9,696.8 Z" fill="#9fb7a0"/>
<path d="M450.7,717.6 L453.7,709.7 L455.7,703.7 L459.7,702.7 L463.6,705.7 L467.6,709.7 L471.6,712.7 L475.6,717.6 L478.0,722.6 L473.6,727.5 L469.6,726.6 L467.6,722.6 L461.7,720.6 L456.7,720.1 L451.7,719.6 Z" fill="#9fb7a0"/>
<path d="M361.0,666.0 L374.0,666.0 L375.0,676.0 L380.0,681.0 L380.0,692.0 L372.0,695.0 L362.0,696.0 L357.0,700.0 L356.0,709.0 L350.0,709.0 L350.0,676.0 L356.0,675.0 L361.0,678.0 Z" fill="#8e898d"/>
<path d="M350.0,772.4 L357.0,771.0 L362.0,776.0 L363.4,786.0 L361.0,798.5 L350.0,798.5 Z" fill="#8c898c"/>
<ellipse cx="419" cy="678" rx="3.2" ry="5" fill="#84788a"/>
<ellipse cx="418.5" cy="720.6" rx="2.5" ry="4" fill="#84788a"/>
<ellipse cx="421" cy="741" rx="2" ry="3" fill="#84788a"/>
<ellipse cx="416.5" cy="776" rx="4.5" ry="7.5" fill="#84788a"/>
<ellipse cx="363.9" cy="752.6" rx="3.4" ry="3.4" fill="#84788a"/>
<ellipse cx="387.5" cy="744.5" rx="1.9" ry="1.9" fill="#84788a"/>
<ellipse cx="403.4" cy="751.2" rx="2.4" ry="2.9" fill="#84788a"/>
<ellipse cx="400.5" cy="770" rx="3.5" ry="5.3" fill="#84788a"/>
<ellipse cx="412" cy="776" rx="2.3" ry="7.8" fill="#84788a"/>
<ellipse cx="401" cy="720" rx="1.8" ry="1.8" fill="#84788a"/>
<ellipse cx="397" cy="687" rx="1.8" ry="1.2" fill="#84788a"/>
</g>
<ellipse cx="365.8" cy="684.5" rx="2.2" ry="2" fill="#6a90d8"/>
<ellipse cx="410.1" cy="768.5" rx="2.3" ry="3.8" fill="#6a98d6"/>
<ellipse cx="410.2" cy="689.5" rx="1.6" ry="1.3" fill="#d8a84a"/>
<path d="M353,686 L366,666 M372,701 L405,672 M387,706 L420,678 M385,725 L410,715 M368,736 L392,748 M365,760 L357,790 M360,745 L398,738" stroke="#6a8a70" stroke-width="0.55" fill="none" opacity="0.8"/>
<path d="M438.8,802 L474.5,741 M441.2,802 L476.5,743.5" stroke="#c4c4c4" stroke-width="0.6" fill="none"/>
<rect x="348" y="664" width="132" height="137" fill="#a2b89e" filter="url(#grain)" opacity="0.16"/>
<rect x="468.6" y="795.3" width="6.4" height="1.4" fill="#ffffff"/>
</g>
<rect x="391.8" y="705.4" width="10.7" height="10.0" rx="2.4" fill="none" stroke="#5ee05a" stroke-width="1.2"/>
<rect x="414.2" y="758.3" width="10.7" height="10.0" rx="2.4" fill="none" stroke="#5ee05a" stroke-width="1.2"/>
<rect x="391.8" y="776.8" width="10.7" height="10.0" rx="2.4" fill="none" stroke="#5ee05a" stroke-width="1.2"/>
<rect x="349.4" y="665.1" width="128.1" height="134.7" rx="3.4" fill="none" stroke="#1a12f0" stroke-width="1.9"/>
<g clip-path="url(#clipE)">
<rect x="348" y="842" width="132" height="137" fill="#9db59e"/>
<g filter="url(#soft)">
<path d="M445.8,842.0 L445.8,844.0 L447.8,849.0 L453.7,852.0 L458.7,856.0 L463.6,852.0 L476.5,851.0 L480.0,851.0 L480.0,842.0 Z" fill="#8e8e8f"/>
<ellipse cx="398.6" cy="846.5" rx="3.5" ry="2.5" fill="#9a82d6"/>
<ellipse cx="412.5" cy="850" rx="2.2" ry="1.8" fill="#9a82d6"/>
<ellipse cx="378.6" cy="860.5" rx="2.6" ry="5" fill="#8c8590"/>
<path d="M349.0,877.6 L360.0,876.5 L367.0,879.0 L372.0,877.6 L380.0,878.5 L384.6,886.0 L392.0,888.8 L398.0,889.5 L404.0,892.0 L409.0,899.0 L408.0,906.0 L403.8,907.0 L395.0,909.0 L385.0,912.0 L377.5,915.0 L376.9,925.0 L373.0,931.0 L365.0,930.0 L349.0,925.0 Z" fill="#9a82d6"/>
<path d="M371.7,880.0 L381.0,879.5 L384.0,887.0 L383.4,898.0 L379.0,900.5 L373.0,899.0 L371.0,890.0 Z" fill="#8e8c90"/>
<path d="M349.0,891.0 L358.6,891.0 L359.0,903.6 L349.0,903.6 Z" fill="#7fa2cf"/>
<path d="M349.0,903.0 L364.0,903.0 L366.0,930.0 L364.0,960.0 L366.0,978.0 L349.0,978.0 Z" fill="#8aa3d5"/>
<path d="M363.0,928.0 L376.9,925.0 L379.8,933.1 L390.4,940.8 L394.2,945.6 L388.5,955.2 L384.6,963.0 L376.9,970.7 L373.0,978.0 L366.0,978.0 L364.5,955.0 L366.0,935.0 Z" fill="#9a82d6"/>
<path d="M365.3,959.0 L376.9,959.0 L375.0,974.5 L365.3,974.5 Z" fill="#8bb0d2"/>
<ellipse cx="381" cy="909.5" rx="3.6" ry="4.2" fill="#a2c6a4"/>
<path d="M434.8,851.9 L441.8,848.9 L449.7,853.9 L449.7,859.9 L444.8,863.8 L443.8,872.8 L446.0,880.0 L446.0,891.7 L441.0,893.0 L430.0,898.0 L424.9,899.0 L423.9,896.6 L423.9,883.7 L422.9,873.8 L421.9,867.8 L426.9,860.9 L431.9,854.9 Z" fill="#9a82d6"/>
<path d="M424.5,884.0 L440.5,884.0 L441.0,893.0 L430.0,897.5 L424.5,897.0 Z" fill="#80a6cf"/>
<path d="M448.7,870.8 L454.7,866.8 L462.6,867.8 L461.7,870.8 L453.7,875.8 L449.7,876.8 Z" fill="#9a82d6"/>
<ellipse cx="464.6" cy="894" rx="3" ry="2.5" fill="#9a82d6"/>
<ellipse cx="456.7" cy="887" rx="10.5" ry="8.5" fill="#a6d6a8"/>
<ellipse cx="371.6" cy="928.3" rx="4.3" ry="3" fill="#a6d6a8"/>
<ellipse cx="390.8" cy="950" rx="4.3" ry="3.4" fill="#a6d6a8"/>
<path d="M377.5,915.0 L385.0,912.0 L395.0,909.0 L403.8,907.0 L415.5,905.5 L424.0,903.0 L430.0,899.0 L438.8,896.0 L446.0,898.0 L447.0,905.0 L446.0,912.0 L442.0,918.0 L439.6,923.8 L441.8,931.8 L444.8,937.8 L442.8,948.7 L439.8,958.7 L435.8,964.6 L431.9,970.6 L430.9,980.0 L373.0,980.0 L376.9,970.7 L384.6,963.0 L388.5,955.2 L394.2,945.6 L390.4,940.8 L379.8,933.1 L376.9,923.5 Z" fill="#8f8f8f"/>
<ellipse cx="443.8" cy="875.2" rx="3.5" ry="4.5" fill="#8c8a8c"/>
<ellipse cx="425.9" cy="923.9" rx="4" ry="3" fill="#8f90d0"/>
<ellipse cx="440.3" cy="928.4" rx="1.5" ry="3.4" fill="#8f90d0"/>
<ellipse cx="440.5" cy="955.6" rx="2.2" ry="6" fill="#8f90d0"/>
<path d="M446,912 L441.5,920 L441,928 L445.5,935 L446,947 L442.5,959 L436,968 L433,978" stroke="#a7d2a9" stroke-width="3.5" fill="none"/>
</g>
<rect x="348" y="842" width="132" height="137" fill="#9fb59b" filter="url(#grain)" opacity="0.2"/>
<g clip-path="url(#clipE)"><rect x="376" y="903" width="70" height="76" fill="#777" filter="url(#dots)" opacity="0.9"/></g>
<rect x="468.6" y="973.3" width="6.4" height="1.4" fill="#ffffff"/>
</g>
<rect x="391.8" y="856.2" width="15.9" height="14.7" rx="2.6" fill="none" stroke="#5ee05a" stroke-width="1.2"/>
<rect x="396.0" y="881.3" width="16.1" height="15.4" rx="2.6" fill="none" stroke="#5ee05a" stroke-width="1.2"/>
<rect x="453.2" y="916.2" width="16.2" height="14.4" rx="2.6" fill="none" stroke="#5ee05a" stroke-width="1.2"/>
<rect x="349.4" y="927.3" width="15.5" height="14.0" rx="2.6" fill="none" stroke="#40b8a0" stroke-width="1.2"/>
<rect x="349.4" y="944.2" width="15.5" height="14.4" rx="2.6" fill="none" stroke="#40b8a0" stroke-width="1.2"/>
<rect x="349.4" y="843.2" width="128.1" height="134.4" rx="3.4" fill="none" stroke="#ec2a1e" stroke-width="1.9"/>
<text x="414.6" y="643.3" font-size="8.4" text-anchor="middle" fill="#3e3e3e" font-style="italic">Final integrated diagnosis</text>
<text x="414.2" y="661.0" font-size="8.4" text-anchor="middle" fill="#3e3e3e">Schwannoma CNS WHO Grade 1</text>
<text x="413.2" y="811.1" font-size="8.4" text-anchor="middle" fill="#2a2a2a"><tspan font-style="italic" stroke="#2a2a2a" stroke-width="0.3">SpineXtract</tspan> prediction: Schwannoma</text>
<text x="413.4" y="837.5" font-size="8.4" text-anchor="middle" fill="#3e3e3e">Myx. Ependymoma CNS WHO Grade 2</text>
<text x="413.2" y="988.9" font-size="8.4" text-anchor="middle" fill="#2a2a2a"><tspan font-style="italic" stroke="#2a2a2a" stroke-width="0.3">SpineXtract</tspan> prediction: Schwannoma</text>
<text x="342.5" y="726.2" font-size="7.1" text-anchor="middle" fill="#3e3e3e" transform="rotate(-90 342.5 726.2)" dominant-baseline="central">474 diagnostic tumor patches</text>
<text x="342.3" y="915.0" font-size="7.3" text-anchor="middle" fill="#3e3e3e" transform="rotate(-90 342.3 915.0)" dominant-baseline="central">93 diagnostic tumor patches</text>
<rect x="488.0" y="713.3" width="157.5" height="30.700000000000045" fill="#bde5c1"/>
<g filter="url(#he)"><rect x="493.8" y="707.8" width="44.400000000000034" height="42.80000000000007" rx="3" fill="#d484da"/></g>
<rect x="499.3" y="744.5" width="34.900000000000034" height="1.0" fill="#ffffff" opacity="0.85"/>
<g filter="url(#he)"><rect x="544.5" y="707.8" width="43.89999999999998" height="42.80000000000007" rx="3" fill="#d484da"/></g>
<rect x="550.0" y="744.5" width="34.39999999999998" height="1.0" fill="#ffffff" opacity="0.85"/>
<g filter="url(#he)"><rect x="595.2" y="707.8" width="44.0" height="42.80000000000007" rx="3" fill="#d484da"/></g>
<rect x="600.7" y="744.5" width="34.5" height="1.0" fill="#ffffff" opacity="0.85"/>
<rect x="649.7" y="713.3" width="3.3" height="30.700000000000045" fill="#1010f0"/>
<text x="657.8" y="728.9" font-size="7.6" text-anchor="middle" fill="#3e3e3e" transform="rotate(-90 657.8 728.9)" dominant-baseline="central">correct</text>
<text x="516.0" y="760.2" font-size="7.6" text-anchor="middle" fill="#3e3e3e">Fascicle</text>
<text x="516.0" y="767.4" font-size="7.6" text-anchor="middle" fill="#3e3e3e">structure</text>
<text x="566.4" y="760.2" font-size="7.6" text-anchor="middle" fill="#3e3e3e">Antoni-A</text>
<text x="566.4" y="767.4" font-size="7.6" text-anchor="middle" fill="#3e3e3e">areal</text>
<text x="617.2" y="760.2" font-size="7.6" text-anchor="middle" fill="#3e3e3e">Antoni-B</text>
<text x="617.2" y="767.4" font-size="7.6" text-anchor="middle" fill="#3e3e3e">areal</text>
<rect x="487.5" y="854.4" width="157.10000000000002" height="30.5" fill="#bde5c1"/>
<g filter="url(#he)"><rect x="493.5" y="848.4" width="43.39999999999998" height="42.5" rx="3" fill="#d484da"/></g>
<rect x="508.0" y="885.8" width="23.899999999999977" height="1.0" fill="#ffffff" opacity="0.85"/>
<g filter="url(#he)"><rect x="545.2" y="848.4" width="42.59999999999991" height="42.5" rx="3" fill="#d484da"/></g>
<rect x="559.7" y="885.8" width="23.09999999999991" height="1.0" fill="#ffffff" opacity="0.85"/>
<g filter="url(#he)"><rect x="595.2" y="848.4" width="43.39999999999998" height="42.5" rx="3" fill="#d484da"/></g>
<rect x="609.7" y="885.8" width="23.899999999999977" height="1.0" fill="#ffffff" opacity="0.85"/>
<rect x="649.7" y="854.4" width="3.3" height="30.5" fill="#f0281e"/>
<text x="658.3" y="869.9" font-size="7.6" text-anchor="middle" fill="#3e3e3e" transform="rotate(-90 658.3 869.9)" dominant-baseline="central">incorrect</text>
<text x="515.3" y="901.0" font-size="7.6" text-anchor="middle" fill="#3e3e3e">Hypocellular</text>
<text x="515.3" y="908.2" font-size="7.6" text-anchor="middle" fill="#3e3e3e">region</text>
<text x="566.4" y="901.0" font-size="7.6" text-anchor="middle" fill="#3e3e3e">Noisy</text>
<text x="566.4" y="908.2" font-size="7.6" text-anchor="middle" fill="#3e3e3e">region</text>
<text x="617.2" y="901.0" font-size="7.6" text-anchor="middle" fill="#3e3e3e">Spindle-cell-like</text>
<text x="617.2" y="908.2" font-size="7.6" text-anchor="middle" fill="#3e3e3e">structure</text>
<rect x="487.5" y="929.2" width="107.10000000000002" height="30.5" fill="#a3ddd2"/>
<g filter="url(#he)"><rect x="494.4" y="923.2" width="43.39999999999998" height="42.5" rx="3" fill="#d484da"/></g>
<rect x="510.9" y="961.7" width="23.399999999999977" height="1.0" fill="#ffffff" opacity="0.85"/>
<g filter="url(#he)"><rect x="544.4" y="923.2" width="44.80000000000007" height="42.5" rx="3" fill="#d484da"/></g>
<rect x="560.9" y="961.7" width="24.800000000000068" height="1.0" fill="#ffffff" opacity="0.85"/>
<rect x="599.1" y="929.2" width="3.3" height="30.5" fill="#1010f0"/>
<text x="607.6" y="945.5" font-size="7.6" text-anchor="middle" fill="#3e3e3e" transform="rotate(-90 607.6 945.5)" dominant-baseline="central">correct</text>
<text x="541.4" y="975.3" font-size="7.6" text-anchor="middle" fill="#3e3e3e">Uniformly shaped cells</text>
</svg>
</body></html>
